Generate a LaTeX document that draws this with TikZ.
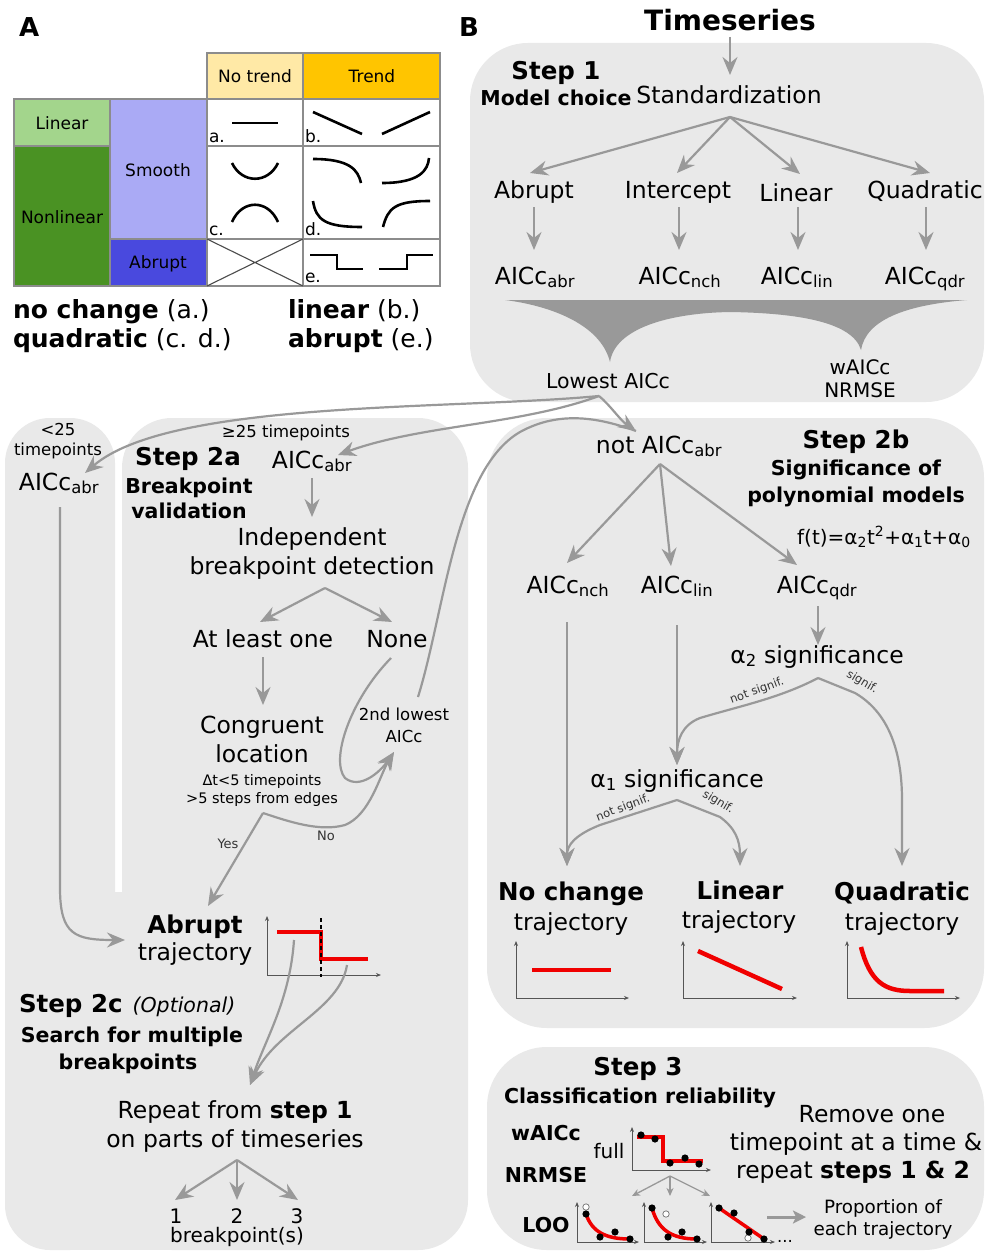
\documentclass[tikz,border=0pt]{standalone}
\usepackage{fontspec}
\setmainfont{DejaVu Sans}
\usetikzlibrary{arrows.meta}
\definecolor{pgray}{HTML}{E9E9E9}
\definecolor{agray}{HTML}{999999}
\definecolor{ntY}{HTML}{FFE9A6}
\definecolor{trY}{HTML}{FFC500}
\definecolor{linG}{HTML}{A3D58C}
\definecolor{nlG}{HTML}{4A9223}
\definecolor{smB}{HTML}{AAAAF5}
\definecolor{abB}{HTML}{4949DE}
\definecolor{tred}{HTML}{F00000}
\definecolor{axg}{HTML}{555555}
\newcommand{\fsMain}{\fontsize{23.5}{28}\selectfont}
\newcommand{\fsHead}{\fontsize{24.5}{29}\selectfont\bfseries}
\newcommand{\fsSub}{\fontsize{20.5}{25}\selectfont\bfseries}
\newcommand{\fsSmall}{\fontsize{16.5}{20}\selectfont}
\newcommand{\fsMid}{\fontsize{20}{24}\selectfont}
\newcommand{\fsTiny}{\fontsize{14.5}{18}\selectfont}
\newcommand{\fsTab}{\fontsize{17}{20}\selectfont}
\newcommand{\fsLab}{\fontsize{13}{16}\selectfont}
\newcommand{\fsSig}{\fontsize{11.5}{14}\selectfont}
\newcommand{\fsUnder}{\fontsize{25}{30}\selectfont}
\newcommand{\fsTS}{\fontsize{28}{33}\selectfont\bfseries}
\newcommand{\fsLet}{\fontsize{26}{30}\selectfont\bfseries}
\begin{document}
\begin{tikzpicture}[x=1pt,y=-1pt,
 every node/.style={inner sep=0pt,outer sep=0pt},
 fM/.style={anchor=base,font=\fsMain},
 fH/.style={anchor=base,font=\fsHead},
 fSb/.style={anchor=base,font=\fsSub},
 fS/.style={anchor=base,font=\fsSmall},
 fMd/.style={anchor=base,font=\fsMid},
 fT/.style={anchor=base,font=\fsTiny},
 fTab/.style={anchor=base,font=\fsTab},
 fLab/.style={anchor=base,font=\fsLab,text=black!80},
 fSig/.style={font=\fsSig,text=black!80},
 fU/.style={anchor=base west,font=\fsUnder},
 conn/.style={draw=agray,line width=2.2pt,-{Stealth[length=18pt,width=15pt,inset=6pt]}},
 thinconn/.style={draw=agray,line width=1.3pt,-{Stealth[length=8pt,width=7pt,inset=2.5pt]}},
 gline/.style={draw=agray,line width=2.2pt},
 axis/.style={draw=axg,line width=0.9pt,-{Stealth[length=5pt,width=4pt]}},
 redl/.style={draw=tred,line width=4.5pt},
 tabl/.style={draw=black!45,line width=1.2pt},
 curv/.style={draw=black,line width=2.6pt},
 hollow/.style={draw=black!55,fill=white,line width=0.7pt},
 panel/.style={fill=pgray},
]
\useasboundingbox (0,0) rectangle (985,1252);
\fill[white] (0,0) rectangle (985,1252);

% ================= Panel A =================
\node[anchor=base west,font=\fsLet] (lblA) at (19,37) {A};
\fill[ntY] (207,53) rectangle (303,99);
\fill[trY] (303,53) rectangle (440,99);
\fill[linG] (14,99) rectangle (110,146);
\fill[nlG] (14,146) rectangle (110,286);
\fill[smB] (110,99) rectangle (207,239);
\fill[abB] (110,239) rectangle (207,286);
\fill[white] (207,99) rectangle (440,286);
\draw[tabl] (207,53) rectangle (440,99);
\draw[tabl] (303,53) -- (303,286);
\draw[tabl] (14,99) rectangle (440,286);
\draw[tabl] (14,146) -- (110,146);
\draw[tabl] (207,146) -- (440,146);
\draw[tabl] (110,239) -- (440,239);
\draw[tabl] (110,99) -- (110,286);
\draw[tabl] (207,99) -- (207,286);
\node[fTab] (hNT) at (255,83) {No trend};
\node[fTab] (hT) at (372,83) {Trend};
\node[fTab] (hLin) at (62,130) {Linear};
\node[fTab] (hNL) at (62,223) {Nonlinear};
\node[fTab] (hSm) at (158,177) {Smooth};
\node[fTab,text=black] (hAb) at (158,268) {Abrupt};
\node[anchor=base west,font=\fsTab] (ca) at (209,143) {a.};
\node[anchor=base west,font=\fsTab] (cb) at (305,143) {b.};
\node[anchor=base west,font=\fsTab] (cc) at (209,235) {c.};
\node[anchor=base west,font=\fsTab] (cd) at (305,235) {d.};
\node[anchor=base west,font=\fsTab] (ce) at (305,282) {e.};
% glyph curves
\draw[curv] (232,123) -- (278,123);
\draw[curv] (313,112) -- (362,134);
\draw[curv] (382,134) -- (430,112);
\draw[curv] (232,163) .. controls (242,184) and (268,184) .. (278,163);
\draw[curv] (232,222) .. controls (242,199) and (268,199) .. (278,222);
\draw[curv] (313,159) .. controls (350,159) and (358,170) .. (361,183);
\draw[curv] (382,183) .. controls (420,183) and (428,170) .. (429,158);
\draw[curv] (313,201) .. controls (316,220) and (325,227) .. (362,227);
\draw[curv] (383,227) .. controls (388,208) and (395,201) .. (430,201);
\draw[draw=black!70,line width=1.1pt] (207,239) -- (303,286) (207,286) -- (303,239);
\draw[curv] (310,255) -- (337,255) -- (337,269) -- (363,269);
\draw[curv] (379,269) -- (407,269) -- (407,255) -- (433,255);
\node[fU] (tnc) at (13,318) {\textbf{no change} (a.)};
\node[fU] (tqd) at (13,347) {\textbf{quadratic} (c. d.)};
\node[fU] (tli) at (288,318) {\textbf{linear} (b.)};
\node[fU] (tab) at (288,347) {\textbf{abrupt} (e.)};

% ================= Panels B backgrounds =================
\node[anchor=base west,font=\fsLet] (lblB) at (459,37) {B};
\fill[panel,rounded corners=58pt] (470,43) rectangle (984,402);
\fill[panel,rounded corners=45pt] (5,418) rectangle (115,1250);
\fill[panel,rounded corners=50pt] (122,418) rectangle (468,1250);
\fill[panel] (60,892) rectangle (180,1250);
\fill[panel,rounded corners=60pt] (487,418) rectangle (984,1028);
\fill[panel,rounded corners=60pt] (487,1047) rectangle (984,1250);

% ================= Step 1 =================
\node[anchor=base,font=\fsTS] (ts) at (730,31) {Timeseries};
\node[fH] (s1) at (556,80) {Step 1};
\node[fSb] (mc) at (556,106) {Model choice};
\node[fM] (std) at (729,104) {Standardization};
\node[fM] (mAbr) at (534,198) {Abrupt};
\node[fM] (mInt) at (678,199) {Intercept};
\node[fM] (mLin) at (796,201) {Linear};
\node[fM] (mQdr) at (925,199) {Quadratic};
\node[fM] (aAbr) at (535,284) {AICc\textsubscript{abr}};
\node[fM] (aNch) at (680,284) {AICc\textsubscript{nch}};
\node[fM] (aLin) at (797,284) {AICc\textsubscript{lin}};
\node[fM] (aQdr) at (925,284) {AICc\textsubscript{qdr}};
\coordinate (tsOut) at (730,37);
\coordinate (stdIn) at (730,75);
\coordinate (stdOut) at (730,117);
\coordinate (tAbr) at (530,173);
\coordinate (tInt) at (677,173);
\coordinate (tLin) at (800,174);
\coordinate (tQdr) at (930,173);
\draw[conn] (tsOut) -- (stdIn);
\draw[conn] (stdOut) -- (tAbr);
\draw[conn] (stdOut) -- (tInt);
\draw[conn] (stdOut) -- (tLin);
\draw[conn] (stdOut) -- (tQdr);
\coordinate (d1a) at (534,207); \coordinate (d1b) at (534,250);
\coordinate (d2a) at (679,207); \coordinate (d2b) at (679,250);
\coordinate (d3a) at (798,207); \coordinate (d3b) at (798,250);
\coordinate (d4a) at (926,207); \coordinate (d4b) at (926,250);
\draw[conn] (d1a) -- (d1b);
\draw[conn] (d2a) -- (d2b);
\draw[conn] (d3a) -- (d3b);
\draw[conn] (d4a) -- (d4b);
\fill[agray] (505,300) -- (967,300) .. controls (905,305) and (866,320) .. (861,350)
  .. controls (852,320) and (790,313) .. (730,312)
  .. controls (670,313) and (615,328) .. (610,362)
  .. controls (600,322) and (545,305) .. (505,300) -- cycle;
\node[anchor=base,font=\fontsize{20.5}{24}\selectfont] (low) at (608,388) {Lowest AICc};
\node[fMd] (waic) at (860,374) {wAICc};
\node[fMd] (nrmse) at (860,397) {NRMSE};

% ================= Lowest AICc connectors =================
\coordinate (lowF) at (599,396);
\coordinate (nTip) at (85,473);
\coordinate (aTip) at (338,455);
\coordinate (notTip) at (636,431);
\draw[conn] (lowF) .. controls (450,410) and (170,400) .. (nTip);
\draw[conn] (lowF) .. controls (520,425) and (420,425) .. (aTip);
\draw[conn] (lowF) .. controls (610,405) and (620,420) .. (notTip);

% ================= Narrow panel (<25) =================
\node[fS] (lt25a) at (58,435) {<25};
\node[fS] (lt25b) at (58,455) {timepoints};
\node[fM] (nAICc) at (59,490) {AICc\textsubscript{abr}};
\coordinate (nA1) at (60,507);
\coordinate (nA2) at (60,888);
\coordinate (abTip) at (125,940);
\draw[conn] (nA1) -- (nA2) .. controls (60,935) and (75,940) .. (abTip);

% ================= Step 2a =================
\node[fS] (ge25) at (286,437) {≥25 timepoints};
\node[fH] (s2a) at (188,465) {Step 2a};
\node[fSb] (bv1) at (189,493) {Breakpoint};
\node[fSb] (bv2) at (189,518) {validation};
\node[fM] (aAICc2) at (312,468) {AICc\textsubscript{abr}};
\node[fM] (ind1) at (312,545) {Independent};
\node[fM] (ind2) at (312,574) {breakpoint detection};
\node[fM] (alo) at (263,647) {At least one};
\node[fM] (none) at (397,647) {None};
\node[fM] (cong1) at (262,733) {Congruent};
\node[fM] (cong2) at (262,762) {location};
\node[fT] (dt) at (262,785) {Δt<5 timepoints};
\node[fT] (edg) at (262,803) {>5 steps from edges};
\node[fS] (sl1) at (404,720) {2nd lowest};
\node[fS] (sl2) at (404,742) {AICc};
\node[fLab] (yes) at (228,848) {Yes};
\node[fLab] (no) at (326,840) {No};
\coordinate (a2a1) at (312,478); \coordinate (a2a2) at (312,517);
\draw[conn] (a2a1) -- (a2a2);
\coordinate (f2a) at (325,588);
\coordinate (t2aL) at (260,622);
\coordinate (t2aR) at (392,622);
\draw[conn] (f2a) -- (t2aL);
\draw[conn] (f2a) -- (t2aR);
\coordinate (al1) at (263,657); \coordinate (al2) at (263,705);
\draw[conn] (al1) -- (al2);
\coordinate (none1) at (391,658);
\coordinate (secTip) at (394,752);
\draw[conn] (none1) .. controls (350,700) and (330,760) .. (345,778) .. controls (360,790) and (380,772) .. (secTip);
\coordinate (ynF) at (263,813);
\coordinate (yesTip) at (208,906);
\draw[conn] (ynF) -- (yesTip);
\draw[conn] (ynF) .. controls (290,822) and (320,832) .. (345,825) .. controls (370,815) and (380,775) .. (secTip);
\coordinate (sec1) at (418,697);
\draw[gline] (sec1) .. controls (445,610) and (455,470) .. (520,432) .. controls (560,410) and (600,418) .. (notTip);

% ================= Abrupt trajectory + Step 2c =================
\node[fH] (abr) at (195,933) {Abrupt};
\node[fM] (abrT) at (195,960) {trajectory};
\draw[axis] (267,975) -- (267,916);
\draw[axis] (267,975) -- (381,975);
\draw[redl] (277,932) -- (321,932) -- (321,959) -- (368,959);
\draw[black,line width=1.2pt,dash pattern=on 4pt off 3pt] (321,918) -- (321,977);
\coordinate (abP1) at (294,940);
\coordinate (abP2) at (347,965);
\coordinate (repTip) at (250,1085);
\draw[conn] (abP1) .. controls (290,1000) and (265,1040) .. (repTip);
\draw[conn] (abP2) .. controls (340,1010) and (275,1030) .. (repTip);
\node[anchor=base west,font=\fsHead] (s2c) at (19,1012) {Step 2c\hspace{10pt}{\fontsize{20.5}{24}\selectfont\mdseries\itshape (Optional)}};
\node[fSb] (srch1) at (132,1042) {Search for multiple};
\node[fSb] (srch2) at (128,1069) {breakpoints};
\node[fM] (rep1) at (235,1118) {Repeat from \textbf{step 1}};
\node[fM] (rep2) at (235,1147) {on parts of timeseries};
\coordinate (repF) at (237,1160);
\coordinate (r1) at (175,1200);
\coordinate (r2) at (237,1200);
\coordinate (r3) at (298,1200);
\draw[conn] (repF) -- (r1);
\draw[conn] (repF) -- (r2);
\draw[conn] (repF) -- (r3);
\node[fMd] (b1) at (176,1223) {1};
\node[fMd] (b2) at (237,1223) {2};
\node[fMd] (b3) at (297,1223) {3};
\node[fMd] (bps) at (237,1242) {breakpoint(s)};

% ================= Step 2b =================
\node[fM] (notA) at (659,453) {not AICc\textsubscript{abr}};
\node[fH] (s2b) at (856,448) {Step 2b};
\node[fSb] (sig1) at (856,475) {Significance of};
\node[fSb] (sig2) at (856,502) {polynomial models};
\node[fMd] (ft) at (884,544) {f(t)=α\textsubscript{2}t\textsuperscript{2}+α\textsubscript{1}t+α\textsubscript{0}};
\node[fM] (nch) at (568,593) {AICc\textsubscript{nch}};
\node[fM] (lin) at (677,593) {AICc\textsubscript{lin}};
\node[fM] (qdr) at (817,593) {AICc\textsubscript{qdr}};
\node[fM] (a2s) at (817,663) {α\textsubscript{2} significance};
\node[fM] (a1s) at (677,787) {α\textsubscript{1} significance};
\coordinate (notF) at (660,464);
\coordinate (tN) at (567,563);
\coordinate (tL) at (671,566);
\coordinate (tQ) at (797,565);
\draw[conn] (notF) -- (tN);
\draw[conn] (notF) -- (tL);
\draw[conn] (notF) -- (tQ);
\coordinate (nchL) at (567,622);
\coordinate (nchTip) at (567,866);
\coordinate (linL) at (677,625);
\coordinate (a1Tip) at (677,765);
\coordinate (qdrL) at (818,606);
\coordinate (qdrT) at (818,645);
\draw[conn] (nchL) -- (nchTip);
\draw[conn] (linL) -- (a1Tip);
\draw[conn] (qdrL) -- (qdrT);
\coordinate (a2F) at (818,678);
\coordinate (qTip) at (902,866);
\draw[conn] (a2F) .. controls (780,698) and (740,706) .. (700,718) .. controls (682,725) and (677,740) .. (a1Tip);
\draw[conn] (a2F) -- (855,693) .. controls (893,715) and (902,760) .. (902,800) -- (qTip);
\coordinate (a1F) at (677,800);
\coordinate (lTip) at (740,866);
\draw[conn] (a1F) -- (600,825) .. controls (575,835) and (567,845) .. (nchTip);
\draw[conn] (a1F) -- (720,817) .. controls (735,828) and (740,840) .. (lTip);
\node[fSig,rotate=20] (ns1) at (757,691) {not signif.};
\node[fSig,rotate=-31] (sg1) at (862,682) {signif.};
\node[fSig,rotate=21] (ns2) at (623,808) {not signif.};
\node[fSig,rotate=-31] (sg2) at (718,802) {signif.};
\node[fH] (nc1) at (571,900) {No change};
\node[fM] (nc2) at (571,930) {trajectory};
\node[fH] (li1) at (740,899) {Linear};
\node[fM] (li2) at (739,928) {trajectory};
\node[fH] (qd1) at (902,900) {Quadratic};
\node[fM] (qd2) at (902,930) {trajectory};
% mini plots
\draw[axis] (516,998) -- (516,941);
\draw[axis] (516,998) -- (629,998);
\draw[redl] (532,970) -- (611,970);
\draw[axis] (683,998) -- (683,941);
\draw[axis] (683,998) -- (797,998);
\draw[redl] (698,951) -- (782,989);
\draw[axis] (847,998) -- (847,941);
\draw[axis] (847,998) -- (960,998);
\draw[redl] (861,947) .. controls (870,982) and (885,991) .. (910,991) -- (944,991);

% ================= Step 3 =================
\node[fH] (s3) at (638,1075) {Step 3};
\node[fSb] (cr) at (640,1103) {Classification reliability};
\node[fM] (rm1) at (872,1122) {Remove one};
\node[fM] (rm2) at (856,1150) {timepoint at a time \&};
\node[fM] (rm3) at (853,1178) {repeat \textbf{steps 1 \& 2}};
\node[fSb] (waic3) at (546,1140) {wAICc};
\node[fSb] (nrm3) at (546,1182) {NRMSE};
\node[fSb] (loo) at (546,1232) {LOO};
\node[fMd] (full) at (609,1158) {full};
\node[anchor=base,font=\fontsize{18.3}{23}\selectfont] (pr1) at (883,1213) {Proportion of};
\node[anchor=base,font=\fontsize{18.3}{23}\selectfont] (pr2) at (883,1235) {each trajectory};
\node[fS] (dots) at (785,1242) {...};
% full plot
\draw[axis] (632,1170) -- (632,1127);
\draw[axis] (632,1170) -- (711,1170);
\draw[redl,line width=3.5pt] (637,1137) -- (663,1137) -- (663,1161) -- (703,1161);
\foreach \p in {(641,1135),(655,1139),(670,1163),(685,1158),(699,1164)} \fill \p circle (3.6pt);
\coordinate (fullA) at (670,1176);
\coordinate (s3t1) at (632,1196);
\coordinate (s3t2) at (670,1196);
\coordinate (s3t3) at (710,1196);
\draw[thinconn] (fullA) -- (s3t1);
\draw[thinconn] (fullA) -- (s3t2);
\draw[thinconn] (fullA) -- (s3t3);
% LOO plot 1
\draw[axis] (577,1242) -- (577,1202);
\draw[axis] (577,1242) -- (639,1242);
\draw[redl,line width=3.5pt] (586,1214) .. controls (592,1232) and (606,1239) .. (630,1239);
\draw[hollow] (586,1207) circle (3.2pt);
\foreach \p in {(586,1214),(600,1237),(615,1232),(630,1239)} \fill \p circle (3.6pt);
% LOO plot 2
\draw[axis] (644,1242) -- (644,1202);
\draw[axis] (644,1242) -- (707,1242);
\draw[redl,line width=3.5pt] (652,1208) .. controls (658,1230) and (672,1239) .. (697,1239);
\draw[hollow] (666,1214) circle (3.2pt);
\foreach \p in {(652,1208),(668,1237),(682,1232),(697,1239)} \fill \p circle (3.6pt);
% LOO plot 3
\draw[axis] (711,1242) -- (711,1202);
\draw[axis] (711,1242) -- (775,1242);
\draw[redl,line width=3.5pt] (719,1208) -- (764,1239);
\draw[hollow] (748,1238) circle (3.2pt);
\foreach \p in {(719,1208),(734,1213),(749,1232),(764,1239)} \fill \p circle (3.6pt);
\coordinate (bigA1) at (767,1217);
\coordinate (bigA2) at (806,1217);
\draw[draw=agray,line width=3pt,-{Stealth[length=13pt,width=13pt,inset=3pt]}] (bigA1) -- (bigA2);
\end{tikzpicture}
\end{document}
